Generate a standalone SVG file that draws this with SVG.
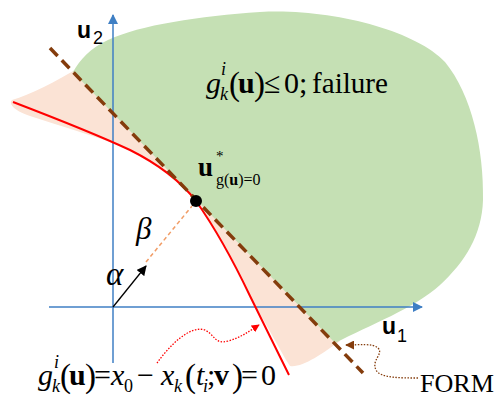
<svg xmlns="http://www.w3.org/2000/svg" width="502" height="398" viewBox="0 0 502 398">
<style>
.m{font-family:"Liberation Serif","Times New Roman",serif;fill:#000}
.i{font-style:italic}
.b{font-weight:bold}
.s{font-family:"Liberation Sans",Arial,sans-serif;fill:#000}
</style>
<defs>
<marker id="ab" viewBox="0 0 10 10" refX="9" refY="5" markerWidth="10" markerHeight="10" markerUnits="userSpaceOnUse" orient="auto"><path d="M0,0 L10,5 L0,10 Z" fill="#3f7fc4"/></marker>
<marker id="ak" viewBox="0 0 10 10" refX="9" refY="5" markerWidth="10" markerHeight="10" markerUnits="userSpaceOnUse" orient="auto"><path d="M0,0 L10,5 L0,10 Z" fill="#000"/></marker>
<marker id="ar" viewBox="0 0 10 10" refX="9" refY="5" markerWidth="8" markerHeight="8" markerUnits="userSpaceOnUse" orient="auto"><path d="M0,0 L10,5 L0,10 Z" fill="#ff0000"/></marker>
<marker id="aw" viewBox="0 0 10 10" refX="9" refY="5" markerWidth="9" markerHeight="9" markerUnits="userSpaceOnUse" orient="auto"><path d="M0,0 L10,5 L0,10 Z" fill="#843c0c"/></marker>
</defs>
<rect width="502" height="398" fill="#fff"/>
<g id="regions">
<path id="safe-margin" d="M12,100 C30,95 55,82 80,67 L340,341 C322,354 302,368 290,366 L286,360 L250,296 C240,275 220,235 196,201 C182,183 160,165 130,150 C100,137 60,126 30,116 C15,111 8,104 12,100 Z" fill="#fbe3d5"/>
<path id="failure" d="M73,72 L335,343 C370,325 415,308 440,285 C465,262 482,235 483,200 C484,150 472,95 445,62 C415,30 330,8 260,12 C200,16 140,25 108,40 C90,48 80,60 73,72 Z" fill="#c5e0b4"/>
</g>
<g id="axes">
<line x1="113" y1="363" x2="113" y2="15" stroke="#3f7fc4" stroke-width="1.5" marker-end="url(#ab)"/>
<line x1="49" y1="307" x2="422" y2="307" stroke="#3f7fc4" stroke-width="1.5" marker-end="url(#ab)"/>
</g>
<g id="connectors">
<path id="limit-state" d="M13,102 C60,120 100,136 130,150 C160,165 182,183 196,201 C220,235 240,275 250,296 L289,375" fill="none" stroke="#ff0000" stroke-width="2"/>
<line id="form-line" x1="50" y1="48" x2="363" y2="373" stroke="#843c0c" stroke-width="3.5" stroke-dasharray="11 6"/>
<line id="beta" x1="146" y1="262" x2="192" y2="206" stroke="#f19c65" stroke-width="1.5" stroke-dasharray="4 3"/>
<line id="alpha" x1="113" y1="307" x2="146" y2="266" stroke="#000" stroke-width="1.3" marker-end="url(#ak)"/>
<path id="g-pointer" d="M157,363 C170,345 190,325 205,330 C215,335 215,345 228,341 C240,338 248,332 259,325" fill="none" stroke="#ff0000" stroke-width="1.3" stroke-dasharray="1.5 1.5" marker-end="url(#ar)"/>
<path id="form-pointer" d="M418,378 C400,378 380,378 376,370 C371,360 384,354 378,348 C372,343 360,345 346,345" fill="none" stroke="#843c0c" stroke-width="1.3" stroke-dasharray="1.5 1.5" marker-end="url(#aw)"/>
</g>
<g id="design-point">
<circle cx="196" cy="201" r="6" fill="#000"/>
<text class="m" font-size="16"><tspan class="b" x="198" y="176" font-size="27">u</tspan><tspan x="216" y="161" font-size="15">*</tspan><tspan x="216" y="185">g(<tspan class="b">u</tspan>)=0</tspan></text>
</g>
<g id="labels">
<text class="s" font-size="18"><tspan class="b" x="77" y="38" font-size="23">u</tspan><tspan x="93" y="44">2</tspan></text>
<text class="s" font-size="18"><tspan class="b" x="382" y="334" font-size="23">u</tspan><tspan x="397" y="342">1</tspan></text>
<text class="m i" x="136" y="239" font-size="31">β</text>
<text class="m i" x="106" y="285" font-size="33">α</text>
<text class="m" x="420" y="392" font-size="26" textLength="74" lengthAdjust="spacingAndGlyphs">FORM</text>
</g>
<g id="failure-label">
<text class="m" font-size="30"><tspan class="i" x="206" y="93">g</tspan><tspan class="i" x="221" y="75" font-size="18">i</tspan><tspan class="i" x="220" y="100" font-size="18">k</tspan><tspan x="229" y="95" font-size="33">(</tspan><tspan class="b" x="238" y="93">u</tspan><tspan x="254" y="95" font-size="33">)</tspan><tspan x="264" y="93">≤</tspan><tspan x="284" y="93">0;</tspan><tspan x="312" y="93" textLength="76" lengthAdjust="spacingAndGlyphs">failure</tspan></text>
</g>
<g id="limit-state-label">
<text class="m" font-size="30"><tspan class="i" x="38" y="385">g</tspan><tspan class="i" x="54" y="368" font-size="18">i</tspan><tspan class="i" x="52" y="392" font-size="18">k</tspan><tspan x="60" y="387" font-size="33">(</tspan><tspan class="b" x="69" y="385">u</tspan><tspan x="85" y="387" font-size="33">)</tspan><tspan x="94" y="385">=</tspan><tspan class="i" x="111" y="385">x</tspan><tspan x="124" y="392" font-size="18">0</tspan><tspan x="137" y="385">−</tspan><tspan class="i" x="161" y="385">x</tspan><tspan class="i" x="174" y="392" font-size="18">k</tspan><tspan x="185" y="387" font-size="33">(</tspan><tspan class="i" x="196" y="385">t</tspan><tspan class="i" x="203" y="392" font-size="18">i</tspan><tspan x="207" y="385">;</tspan><tspan class="b" x="214" y="385">v</tspan><tspan x="232" y="387" font-size="33">)</tspan><tspan x="241" y="385">=</tspan><tspan x="261" y="385">0</tspan></text>
</g>
</svg>
